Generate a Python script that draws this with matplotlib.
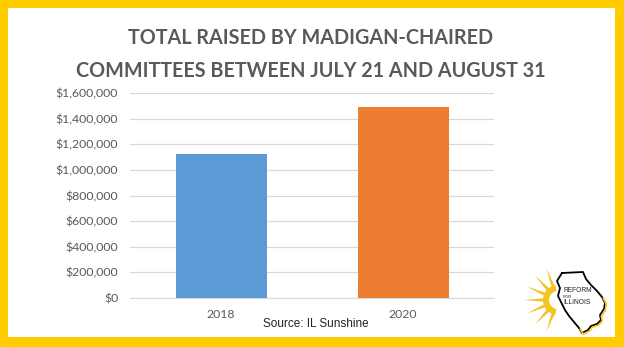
import matplotlib.pyplot as plt
import matplotlib.patches as mpatches
import numpy as np

# Data
years = ['2018', '2020']
totals = [1125000, 1492000]
bar_colors = ['#5B9BD5', '#ED7D31']
yticks = [0, 200000, 400000, 600000, 800000, 1000000, 1200000, 1400000, 1600000]

W, H = 624, 347
fig = plt.figure(figsize=(W / 100, H / 100), dpi=100)
fig.patch.set_facecolor('#FFCC00')

# white card inside yellow border
fig.add_artist(mpatches.Rectangle((8 / W, 10 / H), (615 - 8) / W, (339 - 10) / H,
                                  transform=fig.transFigure, facecolor='white',
                                  edgecolor='none', zorder=0))

ax = fig.add_axes([130 / W, 1 - 298 / H, (494 - 130) / W, (298 - 93) / H])
ax.set_facecolor('white')
ax.bar(years, totals, width=0.5, color=bar_colors, zorder=3)
ax.set_ylim(0, 1600000)
ax.set_xlim(-0.5, 1.5)
ax.set_yticks(yticks)
ax.set_yticklabels(['${:,}'.format(v) for v in yticks])
ax.grid(axis='y', color='#D9D9D9', linewidth=0.9, zorder=0)
for s in ['top', 'right', 'left']:
    ax.spines[s].set_visible(False)
ax.spines['bottom'].set_color('#D9D9D9')
ax.tick_params(length=0, colors='#595959', labelsize=8.8)
ax.tick_params(axis='y', pad=8.5)
ax.tick_params(axis='x', pad=8)
for lbl in ax.get_xticklabels() + ax.get_yticklabels():
    lbl.set_fontfamily('Lato')

# Title
fig.text(311 / W, 1 - 38 / H, 'TOTAL RAISED BY MADIGAN-CHAIRED', ha='center', va='center',
         fontsize=14.2, color='#595959', family='Lato', fontweight='bold')
fig.text(311 / W, 1 - 71 / H, 'COMMITTEES BETWEEN JULY 21 AND AUGUST 31', ha='center',
         va='center', fontsize=14.2, color='#595959', family='Lato', fontweight='bold')

fig.text(316 / W, 1 - 324 / H, 'Source: IL Sunshine', ha='center', va='center',
         fontsize=8.5, color='#222222', family='Liberation Sans')

# Logo (rough sketch in pixel coords)
lg = fig.add_axes([518 / W, 1 - 338 / H, 95 / W, 75 / H])
lg.set_xlim(518, 613)
lg.set_ylim(338, 263)
lg.axis('off')
cx, cy = 558, 300
sun = '#F6C324'
for ang in np.linspace(110, 250, 7):
    a = np.radians(ang)
    da = np.radians(7)
    r0, r1 = 14, 34
    tri = [(cx + r0 * np.cos(a - da), cy + r0 * np.sin(a - da)),
           (cx + r1 * np.cos(a), cy + r1 * np.sin(a)),
           (cx + r0 * np.cos(a + da), cy + r0 * np.sin(a + da))]
    lg.add_patch(mpatches.Polygon(tri, facecolor=sun, edgecolor='none'))
lg.add_patch(mpatches.Wedge((cx, cy), 15, 100, 260, width=6, facecolor=sun, edgecolor='none'))
ill_x = [562, 583, 586, 591, 597, 602, 605, 604, 600, 601, 597, 591, 588, 582, 579, 574, 569,
         565, 561, 558, 560, 557, 562]
ill_y = [273, 272, 279, 285, 291, 297, 303, 309, 315, 320, 324, 326, 330, 333, 328, 322,
         316, 310, 302, 296, 288, 281, 273]
lg.plot(ill_x, ill_y, color='black', lw=1.3)
lg.plot([x + 1.3 for x in ill_x[5:15]], [y + 1.2 for y in ill_y[5:15]], color=sun, lw=1.2)
lg.text(563, 290.5, 'REFORM', fontsize=4.8, family='Liberation Sans', va='center', color='#222222')
lg.text(563, 296.5, 'FOR', fontsize=3.2, family='Liberation Sans', va='center', color='#222222')
lg.text(563, 302, 'ILLINOIS', fontsize=4.8, family='Liberation Sans', va='center', color='#222222')

fig.savefig('out.png', dpi=100, facecolor=fig.get_facecolor())
